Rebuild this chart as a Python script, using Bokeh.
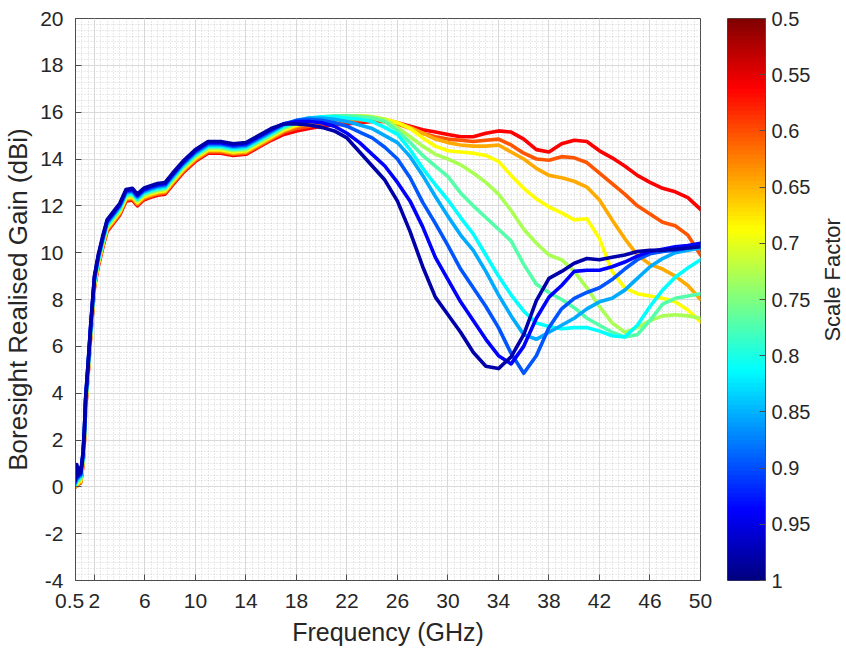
import math
from bokeh.plotting import figure
from bokeh.layouts import row
from bokeh.models import (FixedTicker, LinearAxis, CustomJSTickFormatter, Label, Range1d)
from bokeh.embed import file_html
from bokeh.resources import INLINE

# ---------------- data ----------------
FREQ_GHZ = [0.5, 0.6, 0.7, 0.8, 0.9, 1.0, 1.1, 1.2, 1.3, 1.5, 1.7, 2.0, 2.3, 2.7, 3.0,
            3.5, 4.0, 4.5, 5.0, 5.4, 5.9, 6.4, 7.0, 7.6, 8.2, 9.0, 10.0, 11.0, 12.0,
            13.0, 14.0, 15.0, 16.0,
            17, 18, 19, 20, 21, 22, 23, 24, 25, 26, 27, 28, 29, 30, 31, 32, 33, 34,
            35, 36, 37, 38, 39, 40, 41, 42, 43, 44, 45, 46, 47, 48, 49, 50]

SCALE_FACTORS = [0.5, 0.55, 0.6, 0.65, 0.7, 0.75, 0.8, 0.85, 0.9, 0.95, 1.0]

GAIN_050 = [0.0, 0.1, 0.1, 0.3, 0.2, 0.5, 1.0, 1.9, 3.3, 4.8, 6.4, 8.5, 9.4, 10.3, 10.9, 11.25, 11.6, 12.2, 12.25, 12.0, 12.25, 12.35, 12.45, 12.5, 12.9, 13.4, 13.9, 14.25, 14.25, 14.15, 14.2, 14.5, 14.8,
            15.05, 15.2, 15.3, 15.4, 15.45, 15.5, 15.55, 15.6, 15.6, 15.55, 15.4, 15.25, 15.15, 15.05, 14.95, 14.95, 15.1, 15.2, 15.15, 14.85,
            14.4, 14.3, 14.65, 14.8, 14.75, 14.35, 14.05, 13.7, 13.3, 13.0, 12.75, 12.6, 12.35, 11.85]
GAIN_055 = [0.0, 0.5, 0.05, 0.35, 0.15, 0.55, 1.05, 1.95, 3.35, 4.85, 6.45, 8.55, 9.45, 10.35, 10.95, 11.3, 11.65, 12.25, 12.3, 12.05, 12.3, 12.4, 12.5, 12.55, 12.95, 13.45, 13.95, 14.3, 14.3, 14.2, 14.25, 14.55, 14.85,
            15.15, 15.3, 15.4, 15.5, 15.55, 15.6, 15.65, 15.65, 15.6, 15.5, 15.3, 15.1, 14.95, 14.85, 14.8, 14.75, 14.8, 14.85, 14.6, 14.25,
            14.0, 13.95, 14.1, 14.05, 13.85, 13.4, 12.95, 12.5, 12.0, 11.65, 11.3, 11.15, 10.75, 9.9]
GAIN_060 = [0.0, 0.55, 0.1, 0.4, 0.2, 0.6, 1.1, 2.0, 3.4, 4.9, 6.5, 8.6, 9.5, 10.4, 11.0, 11.35, 11.7, 12.3, 12.35, 12.1, 12.35, 12.45, 12.55, 12.6, 13.0, 13.5, 14.0, 14.35, 14.35, 14.25, 14.3, 14.6, 14.9,
            15.2, 15.4, 15.5, 15.6, 15.65, 15.7, 15.75, 15.75, 15.7, 15.55, 15.35, 15.1, 14.85, 14.7, 14.6, 14.55, 14.55, 14.6, 14.3, 14.0,
            13.6, 13.3, 13.2, 13.05, 12.8, 12.25, 11.4, 10.6, 9.9, 9.5, 9.3, 9.0, 8.6, 8.0]
GAIN_065 = [0.05, 0.6, 0.15, 0.45, 0.25, 0.65, 1.15, 2.05, 3.45, 4.95, 6.55, 8.65, 9.55, 10.45, 11.05, 11.4, 11.75, 12.35, 12.4, 12.15, 12.4, 12.5, 12.6, 12.65, 13.05, 13.55, 14.05, 14.4, 14.4, 14.3, 14.35, 14.65, 14.95,
            15.25, 15.45, 15.6, 15.7, 15.75, 15.8, 15.85, 15.8, 15.7, 15.55, 15.3, 14.9, 14.55, 14.35, 14.3, 14.25, 14.15, 13.9, 13.3, 12.75,
            12.3, 11.95, 11.7, 11.4, 11.45, 10.6, 9.2, 8.5, 8.25, 8.15, 8.05, 7.9, 7.55, 7.05]
GAIN_070 = [0.05, 0.65, 0.2, 0.5, 0.3, 0.7, 1.2, 2.1, 3.5, 5.0, 6.6, 8.7, 9.6, 10.5, 11.1, 11.45, 11.8, 12.4, 12.45, 12.2, 12.45, 12.55, 12.65, 12.7, 13.1, 13.6, 14.1, 14.45, 14.45, 14.35, 14.4, 14.7, 15.0,
            15.3, 15.5, 15.65, 15.75, 15.8, 15.85, 15.85, 15.8, 15.7, 15.35, 14.95, 14.55, 14.2, 14.0, 13.75, 13.4, 13.0, 12.5, 11.8, 11.0,
            10.4, 9.9, 9.7, 9.2, 8.5, 7.7, 7.0, 6.6, 6.8, 7.1, 7.3, 7.35, 7.3, 7.2]
GAIN_075 = [0.1, 0.7, 0.25, 0.55, 0.35, 0.75, 1.25, 2.15, 3.55, 5.05, 6.65, 8.75, 9.65, 10.55, 11.15, 11.5, 11.85, 12.45, 12.5, 12.25, 12.5, 12.6, 12.7, 12.75, 13.15, 13.65, 14.15, 14.5, 14.5, 14.4, 14.45, 14.75, 15.05,
            15.35, 15.55, 15.7, 15.8, 15.85, 15.85, 15.8, 15.75, 15.6, 15.2, 14.7, 14.15, 13.7, 13.25, 12.55, 12.0, 11.5, 11.0, 10.5, 9.5,
            8.65, 8.3, 8.0, 7.65, 7.2, 6.9, 6.6, 6.4, 6.5, 7.1, 7.8, 8.05, 8.15, 8.25]
GAIN_080 = [0.1, 0.75, 0.3, 0.6, 0.4, 0.8, 1.3, 2.2, 3.6, 5.1, 6.7, 8.8, 9.7, 10.6, 11.2, 11.55, 11.9, 12.5, 12.55, 12.3, 12.55, 12.65, 12.75, 12.8, 13.2, 13.7, 14.2, 14.55, 14.55, 14.45, 14.5, 14.8, 15.1,
            15.4, 15.6, 15.75, 15.8, 15.8, 15.75, 15.7, 15.6, 15.35, 15.05, 14.4, 13.6, 12.9, 12.25, 11.5, 10.8, 9.9, 9.0, 8.2, 7.5,
            7.0, 6.85, 6.75, 6.8, 6.8, 6.65, 6.45, 6.4, 6.9, 7.7, 8.4, 8.95, 9.35, 9.7]
GAIN_085 = [0.15, 0.8, 0.35, 0.65, 0.45, 0.85, 1.35, 2.25, 3.65, 5.15, 6.75, 8.85, 9.75, 10.65, 11.25, 11.6, 11.95, 12.55, 12.6, 12.35, 12.6, 12.7, 12.8, 12.85, 13.25, 13.75, 14.25, 14.6, 14.6, 14.5, 14.55, 14.85, 15.15,
            15.45, 15.65, 15.75, 15.75, 15.7, 15.6, 15.45, 15.3, 15.0, 14.7, 14.1, 13.3, 12.4, 11.55, 10.75, 10.1, 9.2, 8.2, 7.3, 6.5,
            6.3, 6.6, 6.9, 7.2, 7.6, 7.9, 8.05, 8.4, 8.9, 9.4, 9.75, 10.0, 10.1, 10.2]
GAIN_090 = [0.2, 0.85, 0.4, 0.7, 0.5, 0.9, 1.4, 2.3, 3.7, 5.2, 6.8, 8.9, 9.8, 10.7, 11.3, 11.65, 12.0, 12.6, 12.65, 12.4, 12.65, 12.75, 12.85, 12.9, 13.3, 13.8, 14.3, 14.65, 14.65, 14.55, 14.6, 14.9, 15.2,
            15.5, 15.65, 15.7, 15.65, 15.55, 15.4, 15.15, 14.9, 14.5, 14.0, 13.2, 12.15, 11.25, 10.3, 9.3, 8.5, 7.7, 6.8, 5.7, 4.85,
            5.6, 6.8, 7.6, 8.05, 8.3, 8.5, 8.85, 9.3, 9.7, 9.95, 10.05, 10.1, 10.2, 10.3]
GAIN_095 = [0.25, 0.9, 0.45, 0.75, 0.55, 0.95, 1.45, 2.35, 3.75, 5.25, 6.85, 8.95, 9.85, 10.75, 11.35, 11.7, 12.05, 12.65, 12.7, 12.45, 12.7, 12.8, 12.9, 12.95, 13.35, 13.85, 14.35, 14.7, 14.7, 14.6, 14.65, 14.95, 15.25,
            15.5, 15.6, 15.6, 15.55, 15.4, 15.1, 14.7, 14.2, 13.7, 13.0, 12.2, 11.1, 9.8, 8.85, 7.9, 7.1, 6.3, 5.6, 5.25, 6.0,
            7.2, 8.1, 8.6, 9.2, 9.25, 9.25, 9.4, 9.6, 9.85, 10.05, 10.15, 10.25, 10.3, 10.4]
GAIN_100 = [0.3, 0.95, 0.5, 0.8, 0.6, 1.0, 1.5, 2.4, 3.8, 5.3, 6.9, 9.0, 9.9, 10.8, 11.4, 11.75, 12.1, 12.7, 12.75, 12.5, 12.75, 12.85, 12.95, 13.0, 13.4, 13.9, 14.4, 14.75, 14.75, 14.65, 14.7, 15.0, 15.3,
            15.5, 15.5, 15.45, 15.35, 15.2, 14.9, 14.3, 13.7, 13.1, 12.2, 10.9, 9.4, 8.1, 7.35, 6.6, 5.75, 5.15, 5.05, 5.55, 6.5,
            7.95, 8.9, 9.2, 9.55, 9.75, 9.7, 9.8, 9.9, 10.05, 10.1, 10.1, 10.15, 10.2, 10.25]

GAINS = [GAIN_050, GAIN_055, GAIN_060, GAIN_065, GAIN_070, GAIN_075,
         GAIN_080, GAIN_085, GAIN_090, GAIN_095, GAIN_100]

X_TICKS = [0.5, 2, 6, 10, 14, 18, 22, 26, 30, 34, 38, 42, 46, 50]
Y_TICKS = [-4, -2, 0, 2, 4, 6, 8, 10, 12, 14, 16, 18, 20]
CB_TICKS = [0.5, 0.55, 0.6, 0.65, 0.7, 0.75, 0.8, 0.85, 0.9, 0.95, 1.0]

# line colours: jet(11), red for 0.5 ... dark blue for 1.0
LINE_COLORS = ["#FF0000", "#FF5500", "#FFAA00", "#FFFF00", "#AAFF55", "#55FFAA",
               "#00FFFF", "#00AAFF", "#0055FF", "#0000FF", "#0000AA"]

# ---------------- styling ----------------
FONT = "Liberation Sans"
TXT = "#262626"
EDGE = "#4d4d4d"


def jet(t):
    def c(v):
        return max(0.0, min(1.0, v))
    r = c(1.5 - abs(4 * t - 3))
    g = c(1.5 - abs(4 * t - 2))
    b = c(1.5 - abs(4 * t - 1))
    return "#%02x%02x%02x" % (int(round(r * 255)), int(round(g * 255)), int(round(b * 255)))


# ---------------- main plot ----------------
p = figure(width=720, height=652, output_backend="svg", toolbar_location=None,
           x_range=Range1d(0.5, 50), y_range=Range1d(-4, 20),
           min_border_left=73, min_border_right=20, min_border_top=18, min_border_bottom=70,
           background_fill_color="white", border_fill_color="white")
p.outline_line_color = EDGE
p.outline_line_width = 1

for gains, col in zip(GAINS, LINE_COLORS):
    p.line(FREQ_GHZ, gains, line_color=col, line_width=3.6, line_join="round", line_cap="round")

x_minor = [0.5 + 0.5 * i for i in range(100)]
y_minor = [-4 + 0.25 * i for i in range(97)]
xt = FixedTicker(ticks=X_TICKS, minor_ticks=x_minor)
yt = FixedTicker(ticks=Y_TICKS, minor_ticks=y_minor)

p.xaxis.ticker = xt
p.yaxis.ticker = yt
p.xaxis.formatter = CustomJSTickFormatter(
    code="if (tick == 0.5) { return '0.5\\u00a0\\u00a0'; } return String(tick);")
p.yaxis.formatter = CustomJSTickFormatter(code="return String(tick);")

for ax in (p.xaxis[0], p.yaxis[0]):
    ax.major_tick_in = 6
    ax.major_tick_out = 0
    ax.minor_tick_line_color = None
    ax.axis_line_color = EDGE
    ax.major_tick_line_color = EDGE
    ax.major_label_text_font = FONT
    ax.major_label_text_font_size = "21px"
    ax.major_label_text_color = TXT
    ax.axis_label_text_font = FONT
    ax.axis_label_text_font_style = "normal"
    ax.axis_label_text_color = TXT

p.xaxis.axis_label = "Frequency (GHz)"
p.xaxis.axis_label_text_font_size = "25px"
p.xaxis.major_label_standoff = 4
p.xaxis.axis_label_standoff = 3
p.yaxis.axis_label = "Boresight Realised Gain (dBi)"
p.yaxis.axis_label_text_font_size = "26px"
p.yaxis.major_label_standoff = 8
p.yaxis.axis_label_standoff = 4

p.xgrid.grid_line_color = "#d9d9d9"
p.ygrid.grid_line_color = "#d9d9d9"
p.xgrid.minor_grid_line_color = "#c4c4c4"
p.ygrid.minor_grid_line_color = "#c4c4c4"
p.xgrid.minor_grid_line_dash = "1 2"
p.ygrid.minor_grid_line_dash = "1 2"
p.xgrid.minor_grid_line_alpha = 0.75
p.ygrid.minor_grid_line_alpha = 0.75

# ---------------- colour bar (0.5 dark red at top, 1 dark blue at bottom) ----------------
N_BINS = 128
STEP = 0.5 / N_BINS
bin_lo = [0.5 + STEP * i for i in range(N_BINS)]
bin_hi = [min(1.0, 0.5 + STEP * (i + 2)) for i in range(N_BINS)]   # overlap hides seams
bin_col = [jet(1.0 - (i + 0.5) / N_BINS) for i in range(N_BINS)]

cbar = figure(width=95, height=652, output_backend="svg", toolbar_location=None,
              x_range=Range1d(0, 1), y_range=Range1d(1.0, 0.5),
              x_axis_type=None, y_axis_type=None,
              min_border_left=7, min_border_right=50, min_border_top=15, min_border_bottom=72,
              background_fill_color="white", border_fill_color="white")
cbar.grid.visible = False
cbar.outline_line_color = EDGE
cbar.quad(left=0, right=1, bottom=bin_lo, top=bin_hi, fill_color=bin_col,
          line_color=None)
cax = LinearAxis(ticker=FixedTicker(ticks=CB_TICKS, minor_ticks=[]),
                 formatter=CustomJSTickFormatter(code="return String(tick);"),
                 major_tick_in=6, major_tick_out=0, minor_tick_line_color=None,
                 axis_line_color=EDGE, major_tick_line_color=EDGE,
                 major_label_text_font=FONT, major_label_text_font_size="20px",
                 major_label_text_color=TXT, major_label_standoff=6)
cbar.add_layout(cax, "right")

# ---------------- colour bar title ----------------
lab = figure(width=31, height=652, output_backend="svg", toolbar_location=None,
             x_range=Range1d(0, 1), y_range=Range1d(0, 1),
             x_axis_type=None, y_axis_type=None,
             min_border_left=0, min_border_right=0, min_border_top=0, min_border_bottom=0,
             background_fill_color="white", border_fill_color="white")
lab.grid.visible = False
lab.outline_line_color = None
lab.add_layout(Label(x=0.55, y=0.535, text="Scale Factor", angle=math.pi / 2,
                     text_align="center", text_baseline="middle",
                     text_font=FONT, text_font_size="22px", text_color=TXT))

layout = row(p, cbar, lab, spacing=0)
open("out.html", "w").write(file_html(layout, INLINE))
